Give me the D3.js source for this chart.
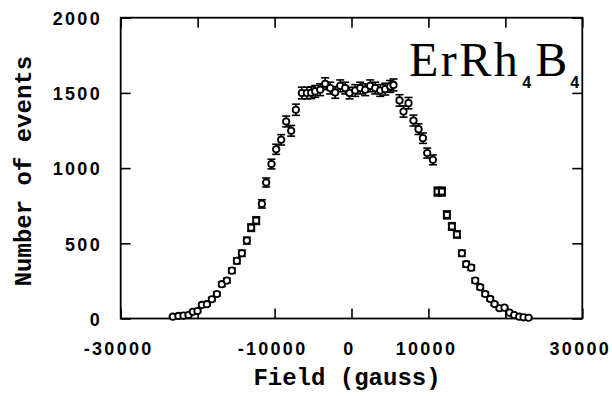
<!DOCTYPE html>
<html>
<head>
<meta charset="utf-8">
<script src="https://cdn.jsdelivr.net/npm/d3@7"></script>
<style>
  body { margin: 0; background: #fff; }
  svg { display: block; }
</style>
</head>
<body>
<svg id="chart"></svg>
<script>
// Данные: поле (гаусс) и число событий.
const circleField = [
  -23220, -22490, -21840, -21190, -20620, -20020, -19450, -18800, -18150, -17500,
  -16850, -16200, -15550, -14900, -14250, -13600, -11650, -11090, -10400, -9790,
  -9140, -8490, -7840, -7230, -6450, -5800, -5240, -4720, -4070, -3420,
  -2770, -2120, -1470, -820, -260, 480, 1130, 1780, 2430, 3080,
  3730, 4380, 5030, 5460, 6240, 6760, 7410, 8060, 8710, 9280,
  9840, 10580, 14350, 14910, 15560, 16080, 16730, 17380, 18030, 18590,
  19240, 19890, 20540, 21150, 21800, 22360, 23010
];
const circleCounts = [
  12, 17, 19, 23, 45, 50, 90, 95, 128, 163,
  228, 252, 318, 383, 434, 518, 762, 904, 1027, 1125,
  1188, 1310, 1248, 1388, 1499, 1499, 1501, 1510, 1521, 1561,
  1532, 1503, 1547, 1532, 1499, 1516, 1532, 1521, 1547, 1532,
  1516, 1525, 1543, 1553, 1450, 1376, 1432, 1316, 1259, 1199,
  1100, 1055, 434, 361, 338, 252, 208, 163, 130, 96,
  68, 72, 39, 23, 12, 8, 5
];
const squareField = [-13040, -12390, 11180, 11750, 12400, 13050, 13700];
const squareCounts = [604, 651, 844, 844, 689, 612, 559];

const xTicks = [-30000, -20000, -10000, 0, 10000, 20000, 30000];
const xLabels = ["-30000", "", "-10000", "0", "10000", "", "30000"];
const yTicks = [0, 500, 1000, 1500, 2000];

const width = 612;
const height = 396;
const margin = { top: 17.7, right: 29.7, bottom: 77.5, left: 120.7 };

const svg = d3.select("#chart")
  .attr("width", width)
  .attr("height", height)
  .attr("viewBox", [0, 0, width, height]);

const x = d3.scaleLinear()
  .domain([-30000, 30000])
  .range([margin.left, width - margin.right]);

const y = d3.scaleLinear()
  .domain([0, 2000])
  .range([height - margin.bottom, margin.top]);

const tickFont = "'Liberation Sans', Arial, sans-serif";
const monoFont = "'Liberation Mono', 'Courier New', monospace";

// рамка
svg.append("rect")
  .attr("x", x(-30000))
  .attr("y", y(2000))
  .attr("width", x(30000) - x(-30000))
  .attr("height", y(0) - y(2000))
  .attr("fill", "none")
  .attr("stroke", "#000")
  .attr("stroke-width", 1.8);

// засечки внутрь со всех сторон
function styleAxis(g) {
  g.select(".domain").remove();
  g.selectAll(".tick line").attr("stroke", "#000").attr("stroke-width", 1.6);
}

svg.append("g")
  .attr("transform", `translate(0,${y(0)})`)
  .call(d3.axisBottom(x).tickValues(xTicks).tickSize(-10).tickFormat(""))
  .call(styleAxis);

svg.append("g")
  .attr("transform", `translate(0,${y(2000)})`)
  .call(d3.axisTop(x).tickValues(xTicks).tickSize(-10).tickFormat(""))
  .call(styleAxis);

svg.append("g")
  .attr("transform", `translate(${x(-30000)},0)`)
  .call(d3.axisLeft(y).tickValues(yTicks).tickSize(-10).tickFormat(""))
  .call(styleAxis);

svg.append("g")
  .attr("transform", `translate(${x(30000)},0)`)
  .call(d3.axisRight(y).tickValues(yTicks).tickSize(-10).tickFormat(""))
  .call(styleAxis);

// подписи делений
svg.append("g")
  .selectAll("text")
  .data(xTicks)
  .join("text")
  .attr("x", d => x(d) - 2)
  .attr("y", y(0) + 36)
  .attr("text-anchor", "middle")
  .style("font-family", tickFont)
  .style("font-weight", "bold")
  .style("font-size", "18px")
  .style("letter-spacing", "2.3px")
  .text((d, i) => xLabels[i]);

svg.append("g")
  .selectAll("text")
  .data(yTicks)
  .join("text")
  .attr("x", 102)
  .attr("y", d => y(d) + 1)
  .attr("dy", "0.35em")
  .attr("text-anchor", "end")
  .style("font-family", tickFont)
  .style("font-weight", "bold")
  .style("font-size", "18px")
  .style("letter-spacing", "2.3px")
  .text(d => String(d));

// подписи осей
svg.append("text")
  .attr("x", 347)
  .attr("y", 385)
  .attr("text-anchor", "middle")
  .style("font-family", monoFont)
  .style("font-weight", "bold")
  .style("font-size", "24px")
  .text("Field (gauss)");

svg.append("text")
  .attr("transform", `translate(31,${(y(0) + y(2000)) / 2 + 3}) rotate(-90)`)
  .attr("text-anchor", "middle")
  .style("font-family", monoFont)
  .style("font-weight", "bold")
  .style("font-size", "24px")
  .text("Number of events");

// название образца
const title = svg.append("text")
  .attr("x", 409)
  .attr("y", 76)
  .style("font-family", "'Liberation Serif', 'Times New Roman', serif")
  .style("font-size", "48px");
title.append("tspan").style("letter-spacing", "2.5px").text("ErRh");
title.append("tspan")
  .attr("dx", 2).attr("dy", 12)
  .style("font-family", tickFont).style("font-weight", "bold").style("font-size", "16px")
  .text("4");
title.append("tspan")
  .attr("dx", 4).attr("dy", -12)
  .text("B");
title.append("tspan")
  .attr("dx", 3).attr("dy", 12)
  .style("font-family", tickFont).style("font-weight", "bold").style("font-size", "16px")
  .text("4");

// точки
const circles = circleField.map((f, i) => ({ f, n: circleCounts[i] }));
const squares = squareField.map((f, i) => ({ f, n: squareCounts[i] }));
const all = circles.concat(squares);

const errG = svg.append("g").attr("stroke", "#000").attr("stroke-width", 1.6);
errG.selectAll("line.v")
  .data(all)
  .join("line")
  .attr("class", "v")
  .attr("x1", d => x(d.f)).attr("x2", d => x(d.f))
  .attr("y1", d => y(d.n - Math.sqrt(d.n)))
  .attr("y2", d => y(d.n + Math.sqrt(d.n)));
errG.selectAll("line.top")
  .data(all)
  .join("line")
  .attr("class", "top")
  .attr("x1", d => x(d.f) - 4).attr("x2", d => x(d.f) + 4)
  .attr("y1", d => y(d.n + Math.sqrt(d.n)))
  .attr("y2", d => y(d.n + Math.sqrt(d.n)));
errG.selectAll("line.bot")
  .data(all)
  .join("line")
  .attr("class", "bot")
  .attr("x1", d => x(d.f) - 4).attr("x2", d => x(d.f) + 4)
  .attr("y1", d => y(d.n - Math.sqrt(d.n)))
  .attr("y2", d => y(d.n - Math.sqrt(d.n)));

svg.append("g")
  .selectAll("circle")
  .data(circles)
  .join("circle")
  .attr("cx", d => x(d.f))
  .attr("cy", d => y(d.n))
  .attr("r", 3.2)
  .attr("fill", "#fff")
  .attr("stroke", "#000")
  .attr("stroke-width", 1.8);

svg.append("g")
  .selectAll("rect")
  .data(squares)
  .join("rect")
  .attr("x", d => x(d.f) - 3)
  .attr("y", d => y(d.n) - 3)
  .attr("width", 6)
  .attr("height", 6)
  .attr("fill", "#fff")
  .attr("stroke", "#000")
  .attr("stroke-width", 2);
</script>
</body>
</html>
